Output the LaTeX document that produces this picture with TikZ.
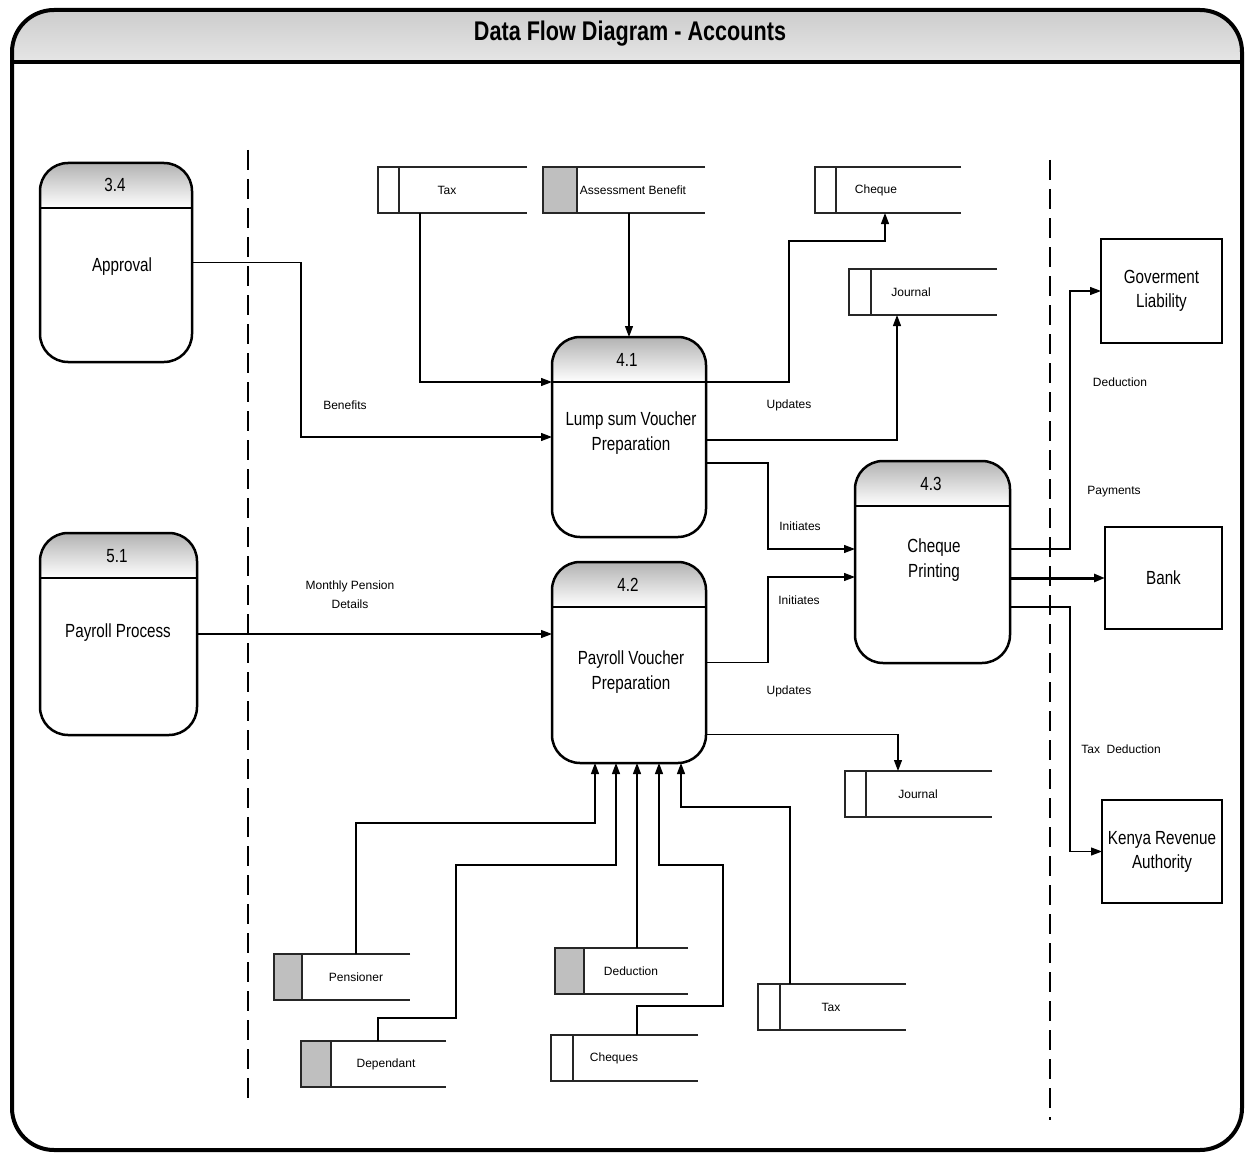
\documentclass[tikz,border=0pt]{standalone}
\usepackage{fontspec}
\setmainfont{Liberation Sans}
\newfontfamily\narrowfont[FakeStretch=0.8]{Liberation Sans}
\usetikzlibrary{arrows.meta,calc}

\tikzset{
  proc/.style={draw, line width=2.5pt, rounded corners=28pt, inner sep=0pt, outer sep=0pt, fill=white,
    path picture={
      \begin{scope}[y=1pt]
      \shade[top color=black!30, bottom color=white, sharp corners]
        (path picture bounding box.north west) rectangle ([yshift=-45pt]path picture bounding box.north east);
      \end{scope}
      \draw[line width=2.5pt, sharp corners]
        ([yshift=-45pt]path picture bounding box.north west) -- ([yshift=-45pt]path picture bounding box.north east);}},
  pnum/.style={font=\narrowfont\fontsize{19}{25}\selectfont, inner sep=0pt},
  ptext/.style={font=\narrowfont\fontsize{19}{25}\selectfont, align=center, inner sep=0pt},
  ent/.style={draw, line width=2.5pt, inner sep=0pt, outer sep=0pt, align=center,
    font=\narrowfont\fontsize{19}{24}\selectfont},
  storebox/.style={inner sep=0pt, outer sep=0pt, minimum height=46pt},
  storeline/.style={line width=1.6pt, black!85},
  slabel/.style={font=\fontsize{12}{14}\selectfont, inner sep=0pt},
  flowlabel/.style={font=\fontsize{12}{19}\selectfont, inner sep=0pt, align=center},
  flow/.style={line width=1.2pt, -{Triangle[length=11pt,width=8pt]}},
  boundary/.style={line width=1.2pt, dash pattern=on 20pt off 9pt},
}

% data store: name, left x, top y, width, divider offset, tab colour, label x, label
\newcommand\dstore[8]{%
  \node[storebox, minimum width=#4pt, anchor=north west] (#1) at (#2,#3) {};
  \fill[#6] (#1.north west) rectangle ([xshift=#5pt]#1.south west);
  \draw[storeline] (#1.north east) -- (#1.north west) -- (#1.south west) -- (#1.south east);
  \draw[storeline] ([xshift=#5pt]#1.north west) -- ([xshift=#5pt]#1.south west);
  \node[slabel] (#1-t) at (#7,#3+23) {#8};
}

\begin{document}
\begin{tikzpicture}[x=1pt, y=-1pt]
\useasboundingbox (0,0) rectangle (1251,1153);
\fill[white] (0,0) rectangle (1251,1153);

% title band and outer frame
\begin{scope}
  \clip[rounded corners=42pt] (12,10) rectangle (1242,1150);
  \shade[top color=black!20, middle color=white, bottom color=black!10] (12,10) rectangle (1242,62);
\end{scope}
\draw[line width=4.5pt] (12,62) -- (1242,62);
\draw[line width=4pt, rounded corners=42pt] (12,10) rectangle (1242,1150);
\node[font=\narrowfont\bfseries\fontsize{27}{30}\selectfont, inner sep=0pt] (title) at (630,34) {Data Flow Diagram - Accounts};

% system boundaries
\draw[boundary] (248,150) -- (248,1105);
\draw[boundary] (1050,160) -- (1050,1120);

% processes
\node[proc, minimum width=152pt, minimum height=199pt] (p34) at (116,262.5) {};
\node[pnum] (p34n) at (115,185) {3.4};
\node[ptext] (p34t) at (122,267) {Approval};

\node[proc, minimum width=157pt, minimum height=202pt] (p51) at (118.5,634) {};
\node[pnum] (p51n) at (117,556) {5.1};
\node[ptext] (p51t) at (118,633) {Payroll Process};

\node[proc, minimum width=154pt, minimum height=200pt] (p41) at (629,437) {};
\node[pnum] (p41n) at (627,360) {4.1};
\node[ptext] (p41t) at (631,433.5) {Lump sum Voucher\\Preparation};

\node[proc, minimum width=154pt, minimum height=201pt] (p42) at (629,662.5) {};
\node[pnum] (p42n) at (628,585) {4.2};
\node[ptext] (p42t) at (631,672.5) {Payroll Voucher\\Preparation};

\node[proc, minimum width=155pt, minimum height=202pt] (p43) at (932.5,562) {};
\node[pnum] (p43n) at (931,484) {4.3};
\node[ptext] (p43t) at (934,560) {Cheque\\Printing};

% external entities
\node[ent, minimum width=121pt, minimum height=104pt] (gov) at (1161.5,291) {Goverment\\Liability};
\node[ent, minimum width=117pt, minimum height=102pt] (bank) at (1163.5,578) {Bank};
\node[ent, minimum width=120pt, minimum height=103pt] (kra) at (1162,851.5) {Kenya Revenue\\Authority};

% data stores
\dstore{sTaxA}{378}{167}{149}{21}{white}{447}{Tax}
\dstore{sAssess}{543}{167}{162}{34}{black!25}{633}{Assessment Benefit}
\dstore{sCheque}{815}{167}{146}{21}{white}{876}{Cheque}
\dstore{sJournalA}{849}{269}{148}{22}{white}{911}{Journal}
\dstore{sJournalB}{845}{771}{147}{21}{white}{918}{Journal}
\dstore{sPens}{274}{954}{136}{28}{black!25}{356}{Pensioner}
\dstore{sDep}{301}{1041}{145}{30}{black!25}{386}{Dependant}
\dstore{sDed}{555}{948}{133}{29}{black!25}{631}{Deduction}
\dstore{sCheques}{551}{1035}{147}{22}{white}{614}{Cheques}
\dstore{sTaxB}{758}{984}{148}{22}{white}{831}{Tax}

% flows into 4.1
\draw[flow] (p34.east) -- ++(109,0) |- (p41.west);
\draw[flow] (sTaxA.south -| 420,0) |- ($(p41.north west)+(0,45)$);
\draw[flow] (p41.north |- sAssess.south) -- (p41.north);

% flows out of 4.1
\draw[flow] ($(p41.north east)+(0,45)$) -| (789,241) -| (sCheque.south -| 885,0);
\draw[flow] ([yshift=-3pt]p41.east) -| (sJournalA.south -| 897,0);
\draw[flow] ([yshift=-26pt]p41.east) -- ++(62,0) |- ([yshift=13pt]p43.west);

% flows into and out of 4.2
\draw[flow] (p51.east) -- (p51.east -| p42.west);
\draw[flow] (p42.east) -- ++(62,0) |- ([yshift=-15pt]p43.west);
\draw[flow] ([yshift=-72pt]p42.east) -| (sJournalB.north -| 898,0);

\draw[flow] (sPens.north -| 356,0) |- (595,823) -- (p42.south -| 595,0);
\draw[flow] (sDep.north -| 378,0) |- (456,1018) |- (616,865) -- (p42.south -| 616,0);
\draw[flow] (sDed.north -| 637,0) -- (p42.south -| 637,0);
\draw[flow] (sCheques.north -| 637,0) |- (723,1006) |- (659,865) -- (p42.south -| 659,0);
\draw[flow] (sTaxB.north -| 790,0) |- (681,807) -- (p42.south -| 681,0);

% flows out of 4.3
\draw[flow] ([yshift=13pt]p43.east) -- ++(60,0) |- (gov.west);
\draw[flow, line width=3pt] (p43.east |- bank.west) -- (bank.west);
\draw[flow] ([yshift=-45pt]p43.east) -- ++(60,0) |- (kra.west);

% flow labels
\node[flowlabel] (lBenefits) at (345,405) {Benefits};
\node[flowlabel] (lUpdA) at (789,405) {Updates};
\node[flowlabel] (lInitA) at (800,526) {Initiates};
\node[flowlabel] (lInitB) at (799,600) {Initiates};
\node[flowlabel] (lMonthly) at (350,594.5) {Monthly Pension\\Details};
\node[flowlabel] (lUpdB) at (789,691) {Updates};
\node[flowlabel] (lDed) at (1120,382) {Deduction};
\node[flowlabel] (lPay) at (1114,492) {Payments};
\node[flowlabel] (lTaxDed) at (1121,749) {Tax\ \ Deduction};
\end{tikzpicture}
\end{document}
